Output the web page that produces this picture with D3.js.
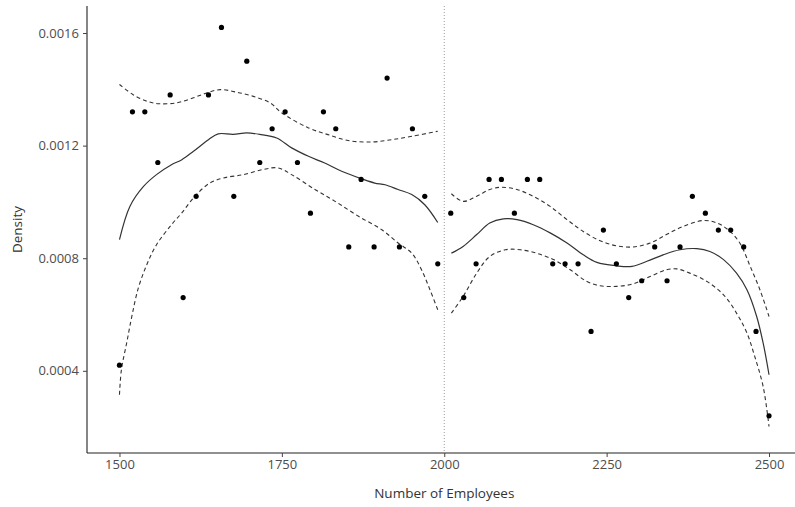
<!DOCTYPE html>
<html>
<head>
<meta charset="utf-8">
<script src="https://cdn.jsdelivr.net/npm/d3@7"></script>
<style>
  body { margin: 0; background: #fff; }
  svg { display: block; font-family: "Open Sans", "Noto Sans", sans-serif; }
</style>
</head>
<body>
<div class="rep"></div>
<script>
// binned density, left and right of the 2000 cutoff
var xLeft = [1500, 1520, 1539, 1559, 1578, 1598, 1618, 1637, 1657, 1676, 1696, 1716, 1735,
             1755, 1774, 1794, 1814, 1833, 1853, 1872, 1892, 1912, 1931, 1951, 1970, 1990];
var densLeft = [0.00042, 0.00132, 0.00132, 0.00114, 0.00138, 0.00066, 0.00102, 0.00138, 0.00162,
                0.00102, 0.0015, 0.00114, 0.00126, 0.00132, 0.00114, 0.00096, 0.00132, 0.00126,
                0.00084, 0.00108, 0.00084, 0.00144, 0.00084, 0.00126, 0.00102, 0.00078];
var xRight = [2010, 2030, 2049, 2069, 2088, 2108, 2128, 2147, 2167, 2186, 2206, 2226, 2245,
              2265, 2284, 2304, 2324, 2343, 2363, 2382, 2402, 2422, 2441, 2461, 2480, 2500];
var densRight = [0.00096, 0.00066, 0.00078, 0.00108, 0.00108, 0.00096, 0.00108, 0.00108, 0.00078,
                 0.00078, 0.00078, 0.00054, 0.0009, 0.00078, 0.00066, 0.00072, 0.00084, 0.00072,
                 0.00084, 0.00102, 0.00096, 0.0009, 0.0009, 0.00084, 0.00054, 0.00024];

// smoothed fit (solid) and its band (dashed)
var fitLeftX = [1500, 1516, 1537, 1557, 1580, 1596, 1614, 1637, 1652, 1675, 1696, 1716, 1742,
                1765, 1791, 1816, 1842, 1873, 1893, 1909, 1929, 1950, 1970, 1990];
var fitLeft = [0.000866, 0.000984, 0.001055, 0.001097, 0.001132, 0.00115, 0.00118, 0.001221,
               0.001242, 0.00124, 0.001245, 0.00124, 0.001227, 0.001192, 0.001162, 0.001138,
               0.001109, 0.001082, 0.001067, 0.001061, 0.001044, 0.001026, 0.00099, 0.000927];
var upLeftX = [1500, 1521, 1542, 1560, 1588, 1614, 1634, 1655, 1680, 1706, 1732, 1750, 1791,
               1821, 1852, 1888, 1919, 1950, 1990];
var upLeft = [0.001417, 0.001381, 0.001358, 0.001349, 0.001352, 0.00137, 0.001387, 0.001399,
              0.00139, 0.001375, 0.001352, 0.001316, 0.001263, 0.001239, 0.001218, 0.001213,
              0.001221, 0.001233, 0.001251];
var loLeftX = [1500, 1503, 1511, 1519, 1529, 1542, 1557, 1580, 1596, 1616, 1639, 1660, 1691,
               1721, 1744, 1765, 1801, 1832, 1868, 1904, 1929, 1950, 1965, 1978, 1990];
var loLeft = [0.000315, 0.000404, 0.000498, 0.000593, 0.000694, 0.000777, 0.000848, 0.000919,
              0.000961, 0.00102, 0.001067, 0.001085, 0.001097, 0.001115, 0.001121, 0.001097,
              0.001044, 0.001002, 0.000949, 0.000901, 0.000854, 0.000818, 0.000759, 0.000688,
              0.000617];

var fitRightX = [2011, 2029, 2050, 2070, 2091, 2112, 2137, 2163, 2189, 2214, 2235, 2265, 2289,
                 2312, 2337, 2363, 2389, 2409, 2430, 2450, 2466, 2481, 2491, 2500];
var fitRight = [0.000818, 0.000842, 0.000884, 0.000925, 0.00094, 0.000937, 0.000919, 0.00089,
                0.000854, 0.000812, 0.000785, 0.000773, 0.000771, 0.000789, 0.000812, 0.00083,
                0.000834, 0.000824, 0.000795, 0.000747, 0.000688, 0.000593, 0.000498, 0.000386];
var upRightX = [2011, 2029, 2050, 2070, 2088, 2112, 2137, 2163, 2189, 2214, 2240, 2265, 2291,
                2317, 2342, 2368, 2399, 2420, 2437, 2455, 2471, 2486, 2500];
var upRight = [0.001029, 0.001002, 0.00102, 0.001044, 0.001052, 0.001044, 0.00102, 0.000984,
               0.000937, 0.000895, 0.000862, 0.000844, 0.00084, 0.000854, 0.000884, 0.000913,
               0.000934, 0.000925, 0.000901, 0.000854, 0.000771, 0.000688, 0.000593];
var loRightX = [2011, 2029, 2050, 2070, 2094, 2117, 2142, 2168, 2194, 2219, 2240, 2265, 2291,
                2317, 2342, 2358, 2378, 2404, 2430, 2450, 2466, 2478, 2491, 2500];
var loRight = [0.000605, 0.000664, 0.000747, 0.000806, 0.00083, 0.00083, 0.000818, 0.000795,
               0.000759, 0.000718, 0.000702, 0.0007, 0.000709, 0.000735, 0.000759, 0.000762,
               0.000747, 0.000718, 0.00067, 0.000605, 0.000534, 0.000451, 0.000344, 0.000202];

var xTicks = [1500, 1750, 2000, 2250, 2500];
var yTicks = [0.0004, 0.0008, 0.0012, 0.0016];
var cutoff = 2000;

var width = 795, height = 507;
var padL = 87, padT = 6, axisY = 453, padR = 801.5;

var svg = d3.select(".rep").append("svg")
    .attr("width", width)
    .attr("height", height);

var x = d3.scaleLinear().domain([1450, 2550]).range([padL, padR]);
var y = d3.scaleLinear().domain([0.000108, 0.001696]).range([axisY, padT]);

// cutoff line
svg.append("line")
    .attr("x1", x(cutoff)).attr("x2", x(cutoff))
    .attr("y1", padT).attr("y2", axisY)
    .style("stroke", "#9a9a9a")
    .style("stroke-width", 1)
    .style("stroke-dasharray", "1,2");

function curve(xs, ys, dash) {
    var pts = xs.map(function (d, i) { return [d, ys[i]]; });
    svg.append("path")
        .datum(pts)
        .attr("d", d3.line()
              .x(function (d) { return x(d[0]); })
              .y(function (d) { return y(d[1]); })
              .curve(d3.curveCatmullRom))
        .style("fill", "none")
        .style("stroke", "#333")
        .style("stroke-width", dash ? 1.1 : 1.2)
        .style("stroke-dasharray", dash ? "4,3" : null);
}

curve(upLeftX, upLeft, true);
curve(loLeftX, loLeft, true);
curve(fitLeftX, fitLeft, false);
curve(upRightX, upRight, true);
curve(loRightX, loRight, true);
curve(fitRightX, fitRight, false);

// points
var pts = xLeft.map(function (d, i) { return [d, densLeft[i]]; })
    .concat(xRight.map(function (d, i) { return [d, densRight[i]]; }));
svg.selectAll("circle.pt")
    .data(pts)
    .enter().append("circle")
    .attr("class", "pt")
    .attr("cx", function (d) { return x(d[0]); })
    .attr("cy", function (d) { return y(d[1]); })
    .attr("r", 2.6)
    .style("fill", "#000");

// axes
var xAxis = svg.append("g")
    .attr("transform", "translate(0," + axisY + ")")
    .call(d3.axisBottom(x).tickValues(xTicks).tickSize(4).tickPadding(3).tickFormat(d3.format("d")));
var yAxis = svg.append("g")
    .attr("transform", "translate(" + padL + ",0)")
    .call(d3.axisLeft(y).tickValues(yTicks).tickSize(4).tickPadding(4).tickFormat(d3.format(".4f")));

[xAxis, yAxis].forEach(function (a) {
    a.select(".domain").style("stroke", "#222").style("stroke-width", 1.1);
    a.selectAll(".tick line").style("stroke", "#444");
    a.selectAll(".tick text")
        .style("fill", "#4d4d4d")
        .style("font-size", "13px")
        .style("font-family", "\"Open Sans\", sans-serif");
});
xAxis.select(".domain").attr("d", "M" + padL + ",0H" + width);
yAxis.select(".domain").attr("d", "M0," + padT + "V" + axisY);

svg.append("text")
    .text("Number of Employees")
    .attr("x", (padL + padR) / 2)
    .attr("y", 498)
    .attr("text-anchor", "middle")
    .style("fill", "#333")
    .style("font-size", "13.5px");

svg.append("text")
    .text("Density")
    .attr("transform", "translate(22," + ((padT + axisY) / 2) + ") rotate(-90)")
    .attr("text-anchor", "middle")
    .style("fill", "#333")
    .style("font-size", "13.5px");
</script>
</body>
</html>
